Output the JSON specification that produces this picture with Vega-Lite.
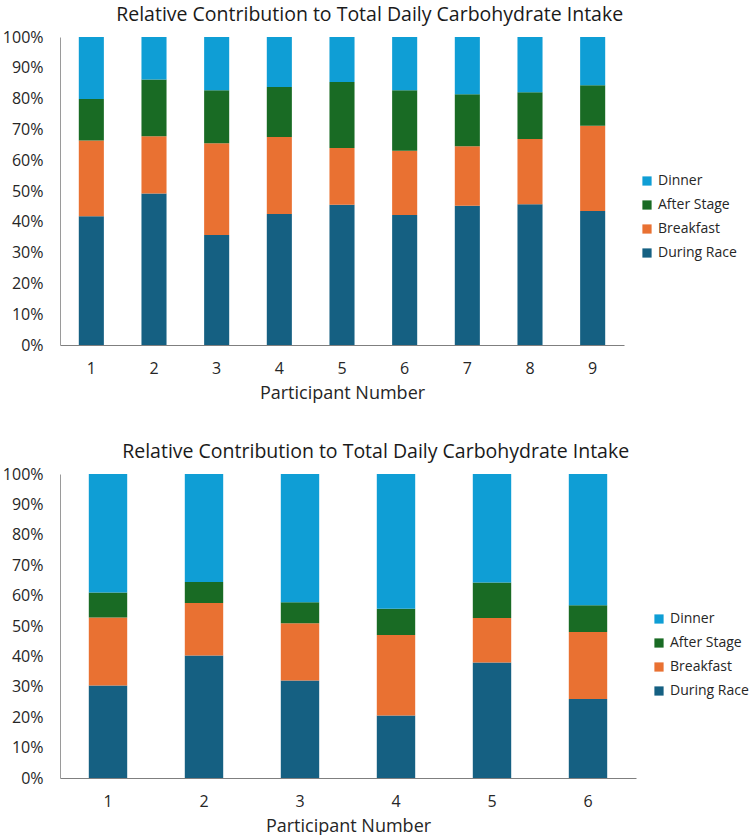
{
  "$schema": "https://vega.github.io/schema/vega-lite/v6.json",
  "padding": {"left": 2, "top": 4, "right": 5, "bottom": 0},
  "background": "white",
  "spacing": 39,
  "config": {
    "font": "Open Sans",
    "view": {"stroke": null},
    "title": {"fontSize": 19.5, "fontWeight": "normal", "color": "#1a1a1a", "anchor": "middle", "frame": "bounds", "offset": 4},
    "axis": {"labelFontSize": 16, "labelColor": "#262626", "titleFontSize": 18, "titleFontWeight": "normal", "titleColor": "#262626", "grid": false, "ticks": false},
    "legend": {"labelFontSize": 14, "labelColor": "#262626", "symbolType": "square", "symbolSize": 85, "symbolStrokeWidth": 0, "rowPadding": 10, "orient": "none"}
  },
  "datasets": {
    "meals": [
      {"meal": "During Race", "rank": 1},
      {"meal": "Breakfast", "rank": 2},
      {"meal": "After Stage", "rank": 3},
      {"meal": "Dinner", "rank": 4}
    ],
    "top": [
      {"participant": "1", "meal": "During Race", "value": 41.8},
      {"participant": "1", "meal": "Breakfast", "value": 24.6},
      {"participant": "1", "meal": "After Stage", "value": 13.5},
      {"participant": "1", "meal": "Dinner", "value": 20.1},
      {"participant": "2", "meal": "During Race", "value": 49.2},
      {"participant": "2", "meal": "Breakfast", "value": 18.6},
      {"participant": "2", "meal": "After Stage", "value": 18.4},
      {"participant": "2", "meal": "Dinner", "value": 13.8},
      {"participant": "3", "meal": "During Race", "value": 35.7},
      {"participant": "3", "meal": "Breakfast", "value": 29.8},
      {"participant": "3", "meal": "After Stage", "value": 17.2},
      {"participant": "3", "meal": "Dinner", "value": 17.3},
      {"participant": "4", "meal": "During Race", "value": 42.5},
      {"participant": "4", "meal": "Breakfast", "value": 25.0},
      {"participant": "4", "meal": "After Stage", "value": 16.3},
      {"participant": "4", "meal": "Dinner", "value": 16.2},
      {"participant": "5", "meal": "During Race", "value": 45.5},
      {"participant": "5", "meal": "Breakfast", "value": 18.5},
      {"participant": "5", "meal": "After Stage", "value": 21.4},
      {"participant": "5", "meal": "Dinner", "value": 14.6},
      {"participant": "6", "meal": "During Race", "value": 42.2},
      {"participant": "6", "meal": "Breakfast", "value": 20.9},
      {"participant": "6", "meal": "After Stage", "value": 19.6},
      {"participant": "6", "meal": "Dinner", "value": 17.3},
      {"participant": "7", "meal": "During Race", "value": 45.2},
      {"participant": "7", "meal": "Breakfast", "value": 19.3},
      {"participant": "7", "meal": "After Stage", "value": 16.9},
      {"participant": "7", "meal": "Dinner", "value": 18.6},
      {"participant": "8", "meal": "During Race", "value": 45.7},
      {"participant": "8", "meal": "Breakfast", "value": 21.2},
      {"participant": "8", "meal": "After Stage", "value": 15.2},
      {"participant": "8", "meal": "Dinner", "value": 17.9},
      {"participant": "9", "meal": "During Race", "value": 43.5},
      {"participant": "9", "meal": "Breakfast", "value": 27.7},
      {"participant": "9", "meal": "After Stage", "value": 13.1},
      {"participant": "9", "meal": "Dinner", "value": 15.7}
    ],
    "bottom": [
      {"participant": "1", "meal": "During Race", "value": 30.4},
      {"participant": "1", "meal": "Breakfast", "value": 22.4},
      {"participant": "1", "meal": "After Stage", "value": 8.2},
      {"participant": "1", "meal": "Dinner", "value": 39.0},
      {"participant": "2", "meal": "During Race", "value": 40.3},
      {"participant": "2", "meal": "Breakfast", "value": 17.3},
      {"participant": "2", "meal": "After Stage", "value": 6.9},
      {"participant": "2", "meal": "Dinner", "value": 35.5},
      {"participant": "3", "meal": "During Race", "value": 32.1},
      {"participant": "3", "meal": "Breakfast", "value": 18.8},
      {"participant": "3", "meal": "After Stage", "value": 6.9},
      {"participant": "3", "meal": "Dinner", "value": 42.2},
      {"participant": "4", "meal": "During Race", "value": 20.6},
      {"participant": "4", "meal": "Breakfast", "value": 26.4},
      {"participant": "4", "meal": "After Stage", "value": 8.7},
      {"participant": "4", "meal": "Dinner", "value": 44.3},
      {"participant": "5", "meal": "During Race", "value": 38.0},
      {"participant": "5", "meal": "Breakfast", "value": 14.6},
      {"participant": "5", "meal": "After Stage", "value": 11.7},
      {"participant": "5", "meal": "Dinner", "value": 35.7},
      {"participant": "6", "meal": "During Race", "value": 26.0},
      {"participant": "6", "meal": "Breakfast", "value": 22.0},
      {"participant": "6", "meal": "After Stage", "value": 8.8},
      {"participant": "6", "meal": "Dinner", "value": 43.2}
    ]
  },
  "vconcat": [
    {
      "title": "Relative Contribution to Total Daily Carbohydrate Intake",
      "data": {"name": "top"},
      "transform": [{"lookup": "meal", "from": {"data": {"name": "meals"}, "key": "meal", "fields": ["rank"]}}],
      "width": 564,
      "height": 308,
      "mark": {"type": "bar"},
      "encoding": {
        "x": {"field": "participant", "type": "ordinal", "title": "Participant Number",
              "scale": {"paddingInner": 0.6, "paddingOuter": 0.3},
              "axis": {"labelAngle": 0, "labelPadding": 15, "titlePadding": 8, "domainColor": "#7f7f7f", "domainWidth": 1}},
        "y": {"field": "value", "type": "quantitative", "stack": "normalize", "title": null,
              "scale": {"domain": [0, 1], "nice": false},
              "axis": {"values": [0, 0.1, 0.2, 0.3, 0.4, 0.5, 0.6, 0.7, 0.8, 0.9, 1], "format": ".0%", "labelPadding": 17, "domainColor": "#9a9a9a", "domainWidth": 1}},
        "order": {"field": "rank", "type": "quantitative", "sort": "ascending"},
        "color": {"field": "meal", "type": "nominal", "title": null,
                  "scale": {"domain": ["Dinner", "After Stage", "Breakfast", "During Race"], "range": ["#0F9ED5", "#196B24", "#E97132", "#156082"]},
                  "legend": {"legendX": 580, "legendY": 137}}
      }
    },
    {
      "title": "Relative Contribution to Total Daily Carbohydrate Intake",
      "data": {"name": "bottom"},
      "transform": [{"lookup": "meal", "from": {"data": {"name": "meals"}, "key": "meal", "fields": ["rank"]}}],
      "width": 576,
      "height": 304,
      "mark": {"type": "bar"},
      "encoding": {
        "x": {"field": "participant", "type": "ordinal", "title": "Participant Number",
              "scale": {"paddingInner": 0.6, "paddingOuter": 0.3},
              "axis": {"labelAngle": 0, "labelPadding": 15, "titlePadding": 8, "domainColor": "#7f7f7f", "domainWidth": 1}},
        "y": {"field": "value", "type": "quantitative", "stack": "normalize", "title": null,
              "scale": {"domain": [0, 1], "nice": false},
              "axis": {"values": [0, 0.1, 0.2, 0.3, 0.4, 0.5, 0.6, 0.7, 0.8, 0.9, 1], "format": ".0%", "labelPadding": 17, "domainColor": "#9a9a9a", "domainWidth": 1}},
        "order": {"field": "rank", "type": "quantitative", "sort": "ascending"},
        "color": {"field": "meal", "type": "nominal", "title": null,
                  "scale": {"domain": ["Dinner", "After Stage", "Breakfast", "During Race"], "range": ["#0F9ED5", "#196B24", "#E97132", "#156082"]},
                  "legend": {"legendX": 592, "legendY": 138}}
      }
    }
  ],
  "resolve": {"scale": {"color": "independent"}, "legend": {"color": "independent"}}
}
